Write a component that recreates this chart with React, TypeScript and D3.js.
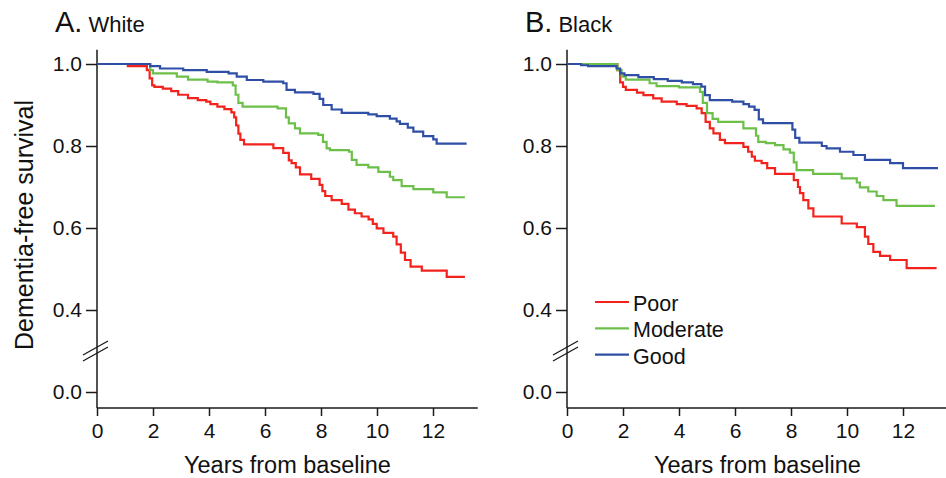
import React, { useRef, useEffect } from 'react';
import * as d3 from 'd3';

type Step = [number, number]; // [years, survival after the step]

const groups = ['Poor', 'Moderate', 'Good'];
const groupColors = ['#f2231c', '#6cc04a', '#2f4ea5'];
const xTicks = [0, 2, 4, 6, 8, 10, 12];
const yTicks = [0.0, 0.4, 0.6, 0.8, 1.0];

// A. White
const whitePoor: Step[] = [
  [0, 1], [1.1, 0.995], [1.78, 0.985], [1.88, 0.965], [1.97, 0.948], [2.05, 0.944], [2.35, 0.94],
  [2.65, 0.934], [2.9, 0.925], [3.25, 0.917], [3.6, 0.912], [3.9, 0.908], [4.05, 0.902], [4.3, 0.896],
  [4.55, 0.89], [4.8, 0.882], [4.9, 0.87], [4.97, 0.85], [5.05, 0.83], [5.12, 0.815], [5.25, 0.804],
  [6.3, 0.795], [6.65, 0.783], [6.85, 0.765], [6.95, 0.758], [7.1, 0.748], [7.25, 0.731], [7.65, 0.72],
  [7.95, 0.705], [8.05, 0.69], [8.15, 0.678], [8.38, 0.668], [8.74, 0.659], [8.98, 0.645], [9.21, 0.636],
  [9.45, 0.628], [9.7, 0.621], [9.85, 0.61], [9.99, 0.599], [10.23, 0.588], [10.58, 0.579], [10.7, 0.56],
  [10.85, 0.54], [11.0, 0.522], [11.2, 0.506], [11.6, 0.496], [12.49, 0.481], [13.14, 0.481],
];
const whiteModerate: Step[] = [
  [0, 1], [1.9, 0.985], [2.0, 0.977], [2.85, 0.969], [3.25, 0.962], [3.95, 0.957], [4.3, 0.955],
  [4.85, 0.948], [4.95, 0.925], [5.05, 0.905], [5.2, 0.896], [6.45, 0.892], [6.75, 0.87], [6.85, 0.855],
  [7.07, 0.843], [7.25, 0.831], [7.9, 0.827], [8.07, 0.81], [8.2, 0.794], [8.32, 0.79], [9.0, 0.786],
  [9.1, 0.766], [9.27, 0.754], [9.69, 0.748], [10.05, 0.737], [10.46, 0.725], [10.58, 0.717],
  [10.88, 0.702], [11.3, 0.695], [12.01, 0.687], [12.49, 0.675], [13.14, 0.675],
];
const whiteGood: Step[] = [
  [0, 1], [1.9, 0.995], [2.25, 0.989], [3.08, 0.985], [3.92, 0.981], [4.7, 0.977], [4.99, 0.969],
  [5.35, 0.961], [5.94, 0.957], [6.65, 0.953], [6.77, 0.937], [7.07, 0.931], [7.73, 0.927], [7.95, 0.915],
  [8.08, 0.9], [8.38, 0.889], [8.74, 0.881], [9.69, 0.877], [9.99, 0.873], [10.46, 0.867], [10.7, 0.86],
  [10.82, 0.854], [11.1, 0.845], [11.3, 0.835], [11.65, 0.824], [12.01, 0.816], [12.13, 0.806], [13.2, 0.806],
];

// B. Black
const blackPoor: Step[] = [
  [0, 1], [1.8, 0.985], [1.9, 0.955], [2.0, 0.944], [2.1, 0.937], [2.5, 0.93], [2.73, 0.924], [3.08, 0.916],
  [3.38, 0.908], [3.92, 0.902], [4.27, 0.898], [4.63, 0.892], [4.81, 0.88], [4.95, 0.859], [5.1, 0.843],
  [5.23, 0.831], [5.46, 0.815], [5.64, 0.807], [6.3, 0.798], [6.47, 0.786], [6.6, 0.774], [6.71, 0.764],
  [6.95, 0.758], [7.15, 0.746], [7.43, 0.732], [8.1, 0.717], [8.25, 0.7], [8.32, 0.685], [8.44, 0.668],
  [8.62, 0.648], [8.8, 0.628], [9.81, 0.611], [10.35, 0.602], [10.64, 0.579], [10.76, 0.561],
  [10.94, 0.542], [11.18, 0.532], [11.54, 0.522], [12.13, 0.502], [13.2, 0.502],
];
const blackModerate: Step[] = [
  [0, 1], [1.8, 0.985], [1.95, 0.969], [2.1, 0.962], [2.95, 0.953], [3.2, 0.946], [4.0, 0.943],
  [4.75, 0.932], [4.85, 0.905], [5.0, 0.88], [5.2, 0.866], [5.4, 0.859], [6.3, 0.843], [6.75, 0.825],
  [6.83, 0.81], [7.1, 0.807], [7.43, 0.802], [7.73, 0.792], [7.96, 0.784], [8.1, 0.76], [8.2, 0.741],
  [8.79, 0.732], [9.81, 0.721], [10.35, 0.711], [10.46, 0.699], [10.76, 0.689], [11.06, 0.678],
  [11.3, 0.668], [11.77, 0.654], [13.14, 0.654],
];
const blackGood: Step[] = [
  [0, 1], [0.5, 0.997], [0.75, 0.995], [1.77, 0.989], [1.9, 0.977], [2.05, 0.973], [2.55, 0.968],
  [3.1, 0.963], [3.6, 0.959], [4.1, 0.955], [4.5, 0.951], [4.8, 0.945], [4.93, 0.924], [5.1, 0.912],
  [5.9, 0.908], [6.3, 0.902], [6.5, 0.896], [6.7, 0.888], [6.85, 0.865], [7.0, 0.856], [8.05, 0.84],
  [8.15, 0.82], [8.3, 0.808], [9.1, 0.8], [9.27, 0.794], [9.75, 0.786], [10.23, 0.778], [10.64, 0.766],
  [11.54, 0.758], [12.0, 0.746], [13.25, 0.746],
];

const panelLetters = ['A.', 'B.'];
const panelNames = ['White', 'Black'];
const panelCurves = [
  [whitePoor, whiteModerate, whiteGood],
  [blackPoor, blackModerate, blackGood],
];

const W = 946;
const H = 478;
const FONT = "'Liberation Sans', Arial, Helvetica, sans-serif";

export default function App() {
  const ref = useRef<SVGSVGElement>(null);

  useEffect(() => {
    document.body.style.margin = '0';
    const svg = d3.select(ref.current);
    svg.selectAll('*').remove();

    // broken y axis: 0.0 sits one 0.2-step below 0.4
    const y = d3.scaleLinear().domain([0, 0.4, 1]).range([392, 310, 64]);
    const axisTop = y(1.035);
    const axisBottom = 408;
    const yBreak = (y(0) + y(0.4)) / 2;
    const ink = '#1a1a1a';

    panelCurves.forEach((curves, i) => {
      const x0 = i === 0 ? 97 : 567;
      const x = d3.scaleLinear().domain([0, 12]).range([x0, x0 + 336]);
      const g = svg.append('g').attr('font-family', FONT);

      // y axis
      const ya = g.append('g')
        .attr('transform', `translate(${x0},0)`)
        .call(d3.axisLeft(y).tickValues(yTicks).tickFormat(d3.format('.1f')).tickSize(11).tickPadding(4));
      ya.select('.domain').remove();
      ya.attr('font-family', FONT).attr('font-size', 21);
      ya.selectAll('line').attr('stroke', ink).attr('stroke-width', 1.5);
      ya.selectAll('text').attr('fill', '#111');
      g.append('line')
        .attr('x1', x0).attr('x2', x0).attr('y1', axisTop).attr('y2', axisBottom)
        .attr('stroke', ink).attr('stroke-width', 1.5);

      // axis break marks
      [-3, 3].forEach(off => {
        g.append('line')
          .attr('x1', x0 - 14).attr('y1', yBreak + off + 7)
          .attr('x2', x0 + 11).attr('y2', yBreak + off - 7)
          .attr('stroke', ink).attr('stroke-width', 1.3);
      });

      // x axis
      const xa = g.append('g')
        .attr('transform', `translate(0,${axisBottom})`)
        .call(d3.axisBottom(x).tickValues(xTicks).tickFormat(d3.format('d')).tickSize(8).tickPadding(7));
      xa.select('.domain').remove();
      xa.attr('font-family', FONT).attr('font-size', 21);
      xa.selectAll('line').attr('stroke', ink).attr('stroke-width', 1.5);
      xa.selectAll('text').attr('fill', '#111');
      g.append('line')
        .attr('x1', x0).attr('x2', x(13.6)).attr('y1', axisBottom).attr('y2', axisBottom)
        .attr('stroke', ink).attr('stroke-width', 1.5);

      g.append('text')
        .attr('x', (x(0) + x(13.6)) / 2).attr('y', 473)
        .attr('text-anchor', 'middle').attr('font-size', 23.5).attr('fill', '#111')
        .text('Years from baseline');

      // title
      const t = g.append('text').attr('x', x0 - 42).attr('y', 32).attr('fill', '#111');
      t.append('tspan').attr('font-size', 29).text(panelLetters[i]);
      t.append('tspan').attr('font-size', 22).attr('dx', 6).text(panelNames[i]);

      // survival curves
      const line = d3.line<Step>()
        .x(d => x(d[0]))
        .y(d => y(d[1]))
        .curve(d3.curveStepAfter);
      curves.forEach((c, j) => {
        g.append('path')
          .datum(c)
          .attr('d', line)
          .attr('fill', 'none')
          .attr('stroke', groupColors[j])
          .attr('stroke-width', 2.2);
      });

      if (i === 1) {
        const lg = g.append('g').attr('transform', `translate(${x0 + 28},302)`);
        groups.forEach((name, j) => {
          lg.append('line')
            .attr('x1', 0).attr('x2', 34).attr('y1', j * 26.3).attr('y2', j * 26.3)
            .attr('stroke', groupColors[j]).attr('stroke-width', 2.2);
          lg.append('text')
            .attr('x', 38).attr('y', j * 26.3 + 9)
            .attr('font-size', 21.5).attr('fill', '#111')
            .text(name);
        });
      }
    });

    svg.append('text')
      .attr('transform', `translate(33,${(97 + 353) / 2}) rotate(-90)`)
      .attr('text-anchor', 'middle')
      .attr('font-family', FONT)
      .attr('font-size', 25)
      .attr('fill', '#111')
      .text('Dementia-free survival');
  }, []);

  return <svg ref={ref} width={W} height={H} viewBox={`0 0 ${W} ${H}`} style={{ display: 'block', background: '#fff' }} />;
}
